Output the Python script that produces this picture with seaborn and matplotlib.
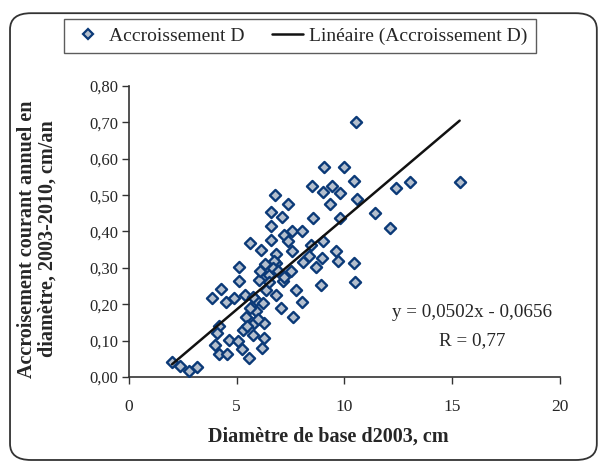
import numpy as np
import pandas as pd
import matplotlib
matplotlib.use("Agg")
import matplotlib.pyplot as plt
from matplotlib.patches import FancyBboxPatch
from matplotlib.lines import Line2D
import seaborn as sns

# ---- data ----
diam_2003 = [10.56, 15.35, 13.03, 12.4, 11.42, 12.1, 10.45, 10.5, 10.57, 10.45,
             10.0, 9.06, 9.8, 8.5, 8.99, 9.44, 9.34, 6.77, 7.39, 6.59,
             7.08, 6.59, 7.56, 8.04, 8.52, 9.8, 5.6, 6.13, 6.59, 7.21,
             7.36, 7.59, 6.82, 6.82, 8.06, 8.44, 8.99, 8.37, 8.67, 8.95,
             9.6, 9.68, 7.52, 7.13, 7.75, 8.03, 7.05, 7.6, 8.91, 5.09,
             5.11, 4.28, 3.86, 4.51, 4.89, 5.4, 5.9, 4.2, 4.08, 3.97,
             4.17, 4.56, 4.64, 5.07, 5.24, 5.59, 6.17, 2.0, 2.38, 2.78,
             3.17, 6.75, 6.82, 7.2, 6.05, 6.36, 5.75, 6.2, 5.9, 5.44,
             5.82, 6.28, 5.75, 6.28, 5.3, 6.5, 6.7, 6.3, 5.6, 6.0,
             5.5, 6.5, 6.9, 6.1]
accr_d = [0.70, 0.535, 0.536, 0.52, 0.45, 0.41, 0.313, 0.262, 0.49, 0.538,
          0.577, 0.577, 0.506, 0.524, 0.51, 0.524, 0.475, 0.501, 0.476, 0.455,
          0.44, 0.415, 0.40, 0.40, 0.437, 0.437, 0.367, 0.35, 0.376, 0.391,
          0.375, 0.345, 0.338, 0.313, 0.315, 0.364, 0.373, 0.333, 0.302, 0.327,
          0.345, 0.318, 0.29, 0.265, 0.24, 0.205, 0.19, 0.164, 0.253, 0.302,
          0.265, 0.242, 0.217, 0.205, 0.218, 0.226, 0.212, 0.14, 0.12, 0.088,
          0.064, 0.064, 0.101, 0.10, 0.078, 0.052, 0.079, 0.04, 0.03, 0.015,
          0.027, 0.318, 0.226, 0.276, 0.267, 0.24, 0.22, 0.203, 0.18, 0.166,
          0.148, 0.148, 0.116, 0.107, 0.13, 0.28, 0.30, 0.31, 0.19, 0.16,
          0.14, 0.26, 0.29, 0.29]
slope = 0.0502
intercept = -0.0656
r_value = "0,77"
x_ticks = [0, 5, 10, 15, 20]
y_ticks = [0.0, 0.1, 0.2, 0.3, 0.4, 0.5, 0.6, 0.7, 0.8]

df = pd.DataFrame({"x": diam_2003, "y": accr_d})
xs = np.array([min(diam_2003), max(diam_2003)])
fit = pd.DataFrame({"x": xs, "y": slope * xs + intercept})

sns.set_theme(style="white")
plt.rcParams["font.family"] = ["Liberation Serif", "DejaVu Serif"]

fig = plt.figure(figsize=(6.0, 4.63), dpi=100)
ax = fig.add_axes([0.215, 0.186, 0.718, 0.628])

edge_c = "#0b3a78"
face_c = "#b4bfcd"
sns.scatterplot(data=df, x="x", y="y", ax=ax, marker="D", s=32,
                facecolor=face_c, edgecolor=edge_c, linewidth=1.7, zorder=3)
sns.lineplot(data=fit, x="x", y="y", ax=ax, color="#111111", linewidth=1.8, zorder=4)

ax.set_xlim(0, 20)
ax.set_ylim(0, 0.8)
ax.set_xticks(x_ticks)
ax.set_yticks(y_ticks)
ax.set_xticklabels([str(t) for t in x_ticks], fontsize=12.5)
ax.set_yticklabels([f"{t:.2f}".replace(".", ",") for t in y_ticks], fontsize=12)
ax.tick_params(axis="both", direction="out", length=5, width=1.0, color="#333333",
               bottom=True, left=True)
ax.tick_params(axis="x", pad=11)
ax.tick_params(axis="y", pad=3)
for s in ["top", "right"]:
    ax.spines[s].set_visible(False)
for s in ["left", "bottom"]:
    ax.spines[s].set_color("#333333")
    ax.spines[s].set_linewidth(1.2)

ax.set_xlabel("")
ax.set_ylabel("")
fig.text(0.547, 0.056, "Diamètre de base d2003, cm", ha="center", va="center",
         fontsize=14.5, fontweight="bold")
fig.text(0.062, 0.484, "Accroisement courant annuel en\ndiamètre, 2003-2010, cm/an",
         ha="center", va="center", rotation=90, multialignment="center",
         fontsize=14.5, fontweight="bold", linespacing=1.05)

ax.text(0.796, 0.22, f"y = {slope:.4f}x - {abs(intercept):.4f}".replace(".", ","),
        transform=ax.transAxes, ha="center", va="center", fontsize=13.7)
ax.text(0.796, 0.124, f"R = {r_value}", transform=ax.transAxes,
        ha="center", va="center", fontsize=13.7)

handles = [Line2D([], [], marker="D", linestyle="none", markersize=5,
                  markerfacecolor=face_c, markeredgecolor=edge_c, markeredgewidth=1.6),
           Line2D([], [], color="#111111", linewidth=1.8)]
leg = fig.legend(handles, ["Accroissement D", "Linéaire (Accroissement D)"],
                 loc="center", bbox_to_anchor=(0.5, 0.922), ncol=2,
                 fontsize=14, frameon=True, fancybox=False, handlelength=1.6,
                 columnspacing=1.4, handletextpad=0.3, borderpad=0.3,
                 borderaxespad=0.0)
leg.get_frame().set_edgecolor("#333333")
leg.get_frame().set_linewidth(1.0)
# a little extra horizontal padding inside the legend frame
leg._legend_box.pad = 6

border = FancyBboxPatch((0.0167, 0.0065), 0.978, 0.965, transform=fig.transFigure,
                        boxstyle="round,pad=0,rounding_size=0.035",
                        facecolor="none", edgecolor="#333333", linewidth=1.3)
fig.patches.append(border)

fig.savefig("out.png", dpi=100)
